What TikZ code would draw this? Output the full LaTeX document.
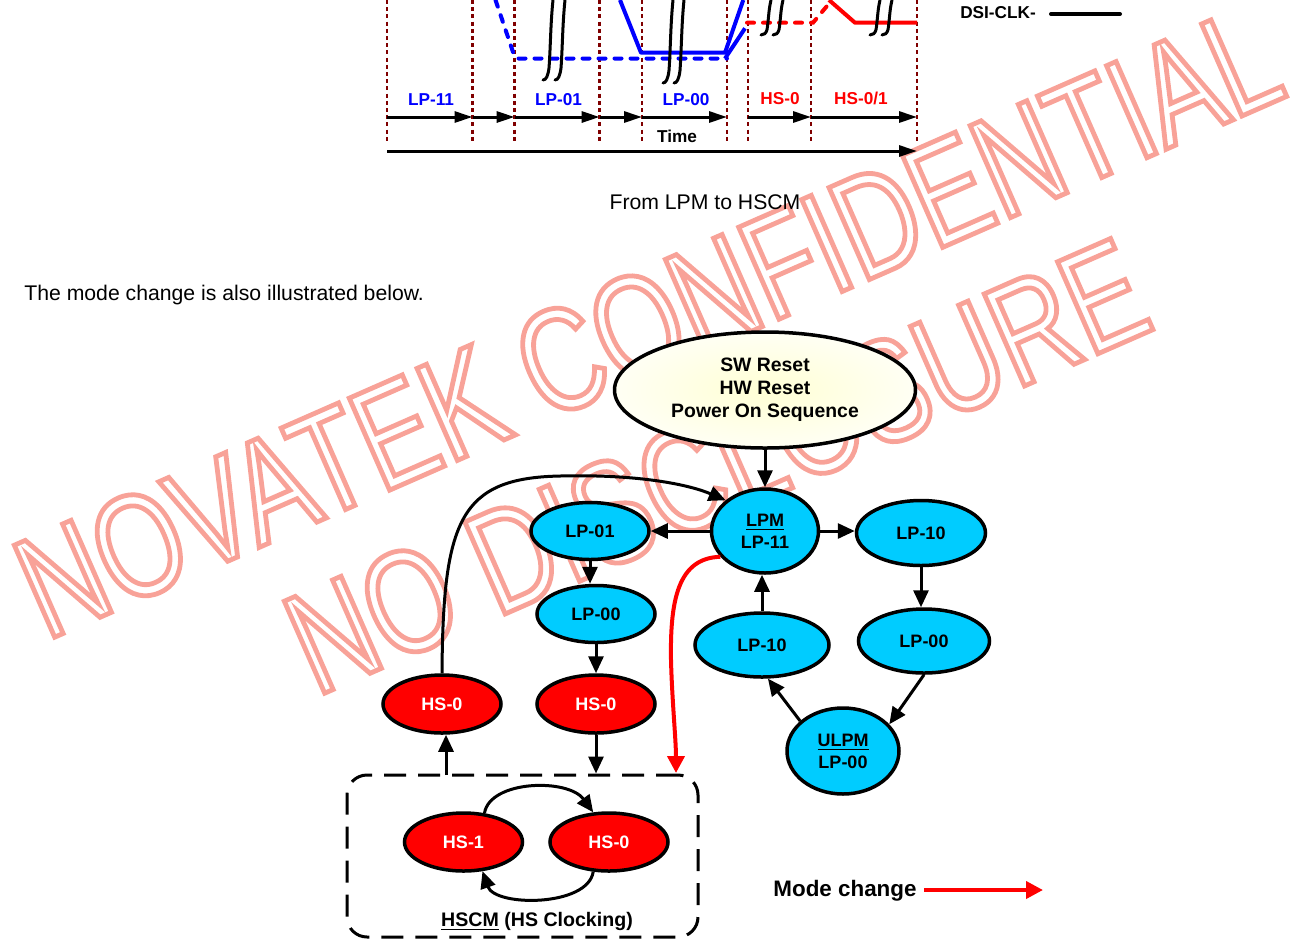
\documentclass[tikz,border=0pt]{standalone}
\usepackage{fontspec}
\setmainfont{Liberation Sans}
\newfontfamily\wmfont[FakeStretch=0.76]{Liberation Sans}
\usetikzlibrary{shapes.geometric,arrows.meta}

\definecolor{lpcyan}{RGB}{0,204,255}
\definecolor{hsred}{RGB}{255,0,0}
\definecolor{sigblue}{RGB}{0,0,255}
\definecolor{gridred}{RGB}{128,0,0}
\definecolor{wmpink}{RGB}{248,162,152}
\definecolor{resetin}{RGB}{255,255,212}
\definecolor{resetout}{RGB}{255,255,244}

% outlined (stroked) glyphs for the watermark
\newcommand\outlinetext[1]{\special{pdf:literal direct 1 Tr 2.4 w}#1\special{pdf:literal direct 0 Tr}}

\tikzset{
  modeel/.style={ellipse, draw=black, line width=1.75pt, inner sep=0pt, align=center,
    font=\bfseries\fontsize{9}{11}\selectfont},
  lpel/.style={modeel, fill=lpcyan, minimum width=59pt, minimum height=28.5pt},
  hsel/.style={modeel, fill=hsred, text=white, minimum width=59pt, minimum height=29pt},
  resetel/.style={modeel, inner color=resetin, outer color=resetout,
    minimum width=150.5pt, minimum height=58pt, font=\bfseries\fontsize{9.7}{11.5}\selectfont},
  flow/.style={line width=1.5pt, -{Triangle[length=8.5pt,width=7.5pt]}},
  modechg/.style={draw=hsred, line width=2pt, -{Triangle[length=8.5pt,width=8.5pt]}},
  hsbox/.style={draw=black, line width=1.5pt, dash pattern=on 11pt off 6pt, rounded corners=10pt,
    minimum width=175.5pt, minimum height=81pt, inner sep=0pt},
  gridline/.style={draw=gridred, line width=1.3pt, dash pattern=on 2pt off 1.6pt},
  tarrow/.style={line width=1.5pt, -{Triangle[length=9pt,width=5.5pt]}},
  tlabel/.style={font=\bfseries\fontsize{8.6}{10}\selectfont, inner sep=0pt},
  sigdash/.style={line width=2pt, line cap=round, dash pattern=on 3.5pt off 4.5pt},
  sigsolid/.style={line width=2pt, line join=round},
  breakmark/.style={line width=1.5pt, line cap=round},
  wm/.style={text=wmpink, inner sep=0pt, font=\wmfont\fontsize{73}{73}\selectfont},
  plaintext/.style={font=\fontsize{10.6}{12}\selectfont, inner sep=0pt}
}

\begin{document}
\begin{tikzpicture}[x=0.5pt,y=-0.5pt]
\useasboundingbox (0,0) rectangle (1308,939);

% ---------- watermark (behind everything) ----------
\node[wm, anchor=base west, rotate=23.7] (wmone) at (46,641) {\outlinetext{NOVATEK CONFIDENTIAL}};
\node[wm, anchor=base west, rotate=23.7] (wmtwo) at (316,697) {\outlinetext{NO DISCLOSURE}};

% ---------- timing chart ----------
\foreach \nm/\gx in {g0/387,g1/472.5,g2/514.6,g3/599.6,g4/642,g5/727,g6/748,g7/811,g8/917}{
  \coordinate (\nm t) at (\gx,0);
  \coordinate (\nm a) at (\gx,117);
  \draw[gridline] (\nm t) -- ++(0,142);
}
\foreach \a/\b in {g0/g1,g1/g2,g2/g3,g3/g4,g4/g5,g6/g7,g7/g8}
  \draw[tarrow] (\a a) -- (\b a);
\coordinate (tstart) at (387,151);
\coordinate (tend) at (917,151);
\draw[tarrow] (tstart) -- (tend);

% data / clock lanes
\draw[sigdash, sigblue] (495.5,0) -- (513,52) -- (517,58.5) -- (727,58.5);
\draw[sigsolid, sigblue] (620,0) -- (641,52.7) -- (725,52.7) -- (743.3,0);
\draw[sigsolid, sigblue] (725,58.5) -- (745,28.3);
\draw[sigdash, hsred] (747,22.7) -- (813,22.7) -- (832,0);
\draw[sigsolid, hsred] (829,0) -- (855,22.7) -- (917,22.7);

% time-break marks
\foreach \bx/\bl in {550/80,562/80,670/83,681/83,768/35,780/35,877/35,889/35}
  \draw[breakmark] (\bx+3,0) .. controls (\bx+0.5,0.3*\bl) and (\bx+0.5,0.6*\bl) .. (\bx-1,0.85*\bl)
    .. controls (\bx-2,0.95*\bl) and (\bx-4,\bl) .. (\bx-7,\bl);

% state labels
\node[tlabel, text=sigblue] (tlpa) at (431,99.5) {LP-11};
\node[tlabel, text=sigblue] (tlpb) at (558.5,99.5) {LP-01};
\node[tlabel, text=sigblue] (tlpc) at (686,99.5) {LP-00};
\node[tlabel, text=hsred] (thsa) at (780,98.5) {HS-0};
\node[tlabel, text=hsred] (thsb) at (861,98.5) {HS-0/1};
\node[tlabel] (ttime) at (677,136.5) {Time};

% legend of the chart
\node[tlabel] (dsiclk) at (998,13) {DSI-CLK-};
\coordinate (dsia) at (1051,14);
\coordinate (dsib) at (1120,14);
\draw[line width=2pt, line cap=round] (dsia) -- (dsib);

% ---------- captions ----------
\node[plaintext] (capa) at (705,202) {From LPM to HSCM};
\node[plaintext, anchor=west] (capb) at (24,295) {The mode change is also illustrated below.};

% ---------- state diagram ----------
\node[resetel] (reset) at (765,390) {SW Reset\\HW Reset\\Power On Sequence};
\node[lpel, minimum width=53.5pt, minimum height=42pt] (lpm) at (765,531) {\underline{LPM}\\LP-11};
\node[lpel] (lpoa) at (590,531) {LP-01};
\node[lpel, minimum width=64.5pt, minimum height=32.5pt] (lpto) at (921,533) {LP-10};
\node[lpel] (lpzl) at (596,614) {LP-00};
\node[lpel, minimum width=67pt, minimum height=32pt] (lptm) at (762,645) {LP-10};
\node[lpel, minimum width=65.5pt, minimum height=32pt] (lpzr) at (924,641) {LP-00};
\node[lpel, minimum width=56pt, minimum height=43pt] (ulpm) at (843,751) {\underline{ULPM}\\LP-00};
\node[hsel] (hszl) at (442,704) {HS-0};
\node[hsel] (hszm) at (596,704) {HS-0};

\node[hsbox] (hscm) at (522.5,856) {};
\node[hsel] (hsone) at (463.5,842) {HS-1};
\node[hsel] (hszc) at (609,842) {HS-0};
\node[font=\bfseries\fontsize{9.8}{11}\selectfont, inner sep=0pt] (hscmlbl) at (537,921.5) {\underline{HSCM} (HS Clocking)};

% connectors
\draw[flow] (reset.south) -- (lpm.north);
\draw[flow] (lpm.west) -- (lpoa.east);
\draw[flow] (lpm.east) -- (lpm.east -| lpto.west);
\draw[flow] (lpoa.south) -- (lpoa.south |- lpzl.north);
\draw[flow] (lpzl.south) -- (hszm.north);
\draw[flow] (hszm.south) -- (hszm.south |- hscm.north);
\coordinate (hsup) at (446,775);
\draw[flow] (hsup) -- (hsup |- hszl.south);
\draw[flow] (hszl.north) .. controls (443,520) and (460,478) .. (560,476)
  .. controls (640,474) and (690,485) .. (lpm.142);
\draw[flow] (lptm.north) -- (lptm.north |- lpm.south);
\draw[flow] (lpto.south) -- (lpto.south |- lpzr.north);
\draw[flow] (lpzr.south) -- (ulpm.30);
\draw[flow] (ulpm.145) -- (lptm.280);

% HS clocking loop
\draw[flow] (hsone.54) .. controls (490,780) and (568,778) .. (hszc.118);
\draw[flow] (hszc.242) .. controls (588,907) and (495,907) .. (hsone.303);

% mode change
\coordinate (hstarget) at (676,773);
\draw[modechg] (lpm.210) .. controls (678,558) and (670,600) .. (671,660)
  .. controls (672,700) and (676,740) .. (hstarget);

\node[font=\bfseries\fontsize{11.2}{13}\selectfont, inner sep=0pt] (legend) at (845,891) {Mode change};
\coordinate (lega) at (924,890);
\coordinate (legb) at (1043,890);
\draw[modechg] (lega) -- (legb);
\end{tikzpicture}
\end{document}
